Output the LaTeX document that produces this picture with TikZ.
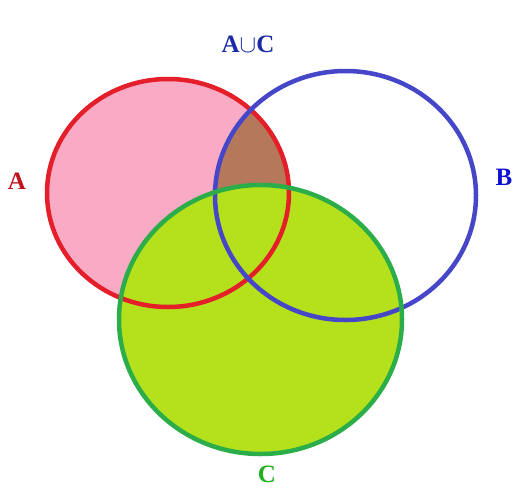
\documentclass[tikz,border=0pt]{standalone}
\usepackage{fontspec}
\setmainfont{Liberation Serif}
\definecolor{pinkA}{HTML}{F9AAC4}
\definecolor{redA}{HTML}{E41F2A}
\definecolor{blueB}{HTML}{4646C8}
\definecolor{greenC}{HTML}{2BAE4A}
\definecolor{limeC}{HTML}{B4E11C}
\definecolor{brownAB}{HTML}{B5785A}
\definecolor{lblA}{HTML}{C0141E}
\definecolor{lblB}{HTML}{1010D0}
\definecolor{lblC}{HTML}{20B020}
\definecolor{lblAC}{HTML}{1A2AA8}
\tikzset{
  lbl/.style={font=\bfseries\fontsize{25}{25}\selectfont, inner sep=0pt},
  ring/.style={line width=4.5pt}
}
\begin{document}
\begin{tikzpicture}[x=1pt,y=-1pt]
\useasboundingbox (0,0) rectangle (514,488);
\fill[white] (0,0) rectangle (514,488);
% fills
\fill[pinkA] (168,193) ellipse [x radius=121, y radius=114];
\begin{scope}
  \clip (168,193) ellipse [x radius=121, y radius=114];
  \fill[brownAB] (345.5,195.5) ellipse [x radius=130.5, y radius=124.5];
\end{scope}
\fill[limeC] (260.5,319.5) ellipse [x radius=141.5, y radius=134.5];
% outlines
\draw[ring, redA] (168,193) ellipse [x radius=121, y radius=114];
\draw[ring, blueB] (345.5,195.5) ellipse [x radius=130.5, y radius=124.5];
\draw[ring, greenC] (260.5,319.5) ellipse [x radius=141.5, y radius=134.5];
% labels
\node[lbl, text=lblAC] (lAC) at (248,44) {A{\mdseries\fontsize{30}{30}\selectfont$\cup$}C};
\node[lbl, text=lblA] (lA) at (17,181) {A};
\node[lbl, text=lblB] (lB) at (504,177) {B};
\node[lbl, text=lblC] (lC) at (267,474) {C};
\end{tikzpicture}
\end{document}
